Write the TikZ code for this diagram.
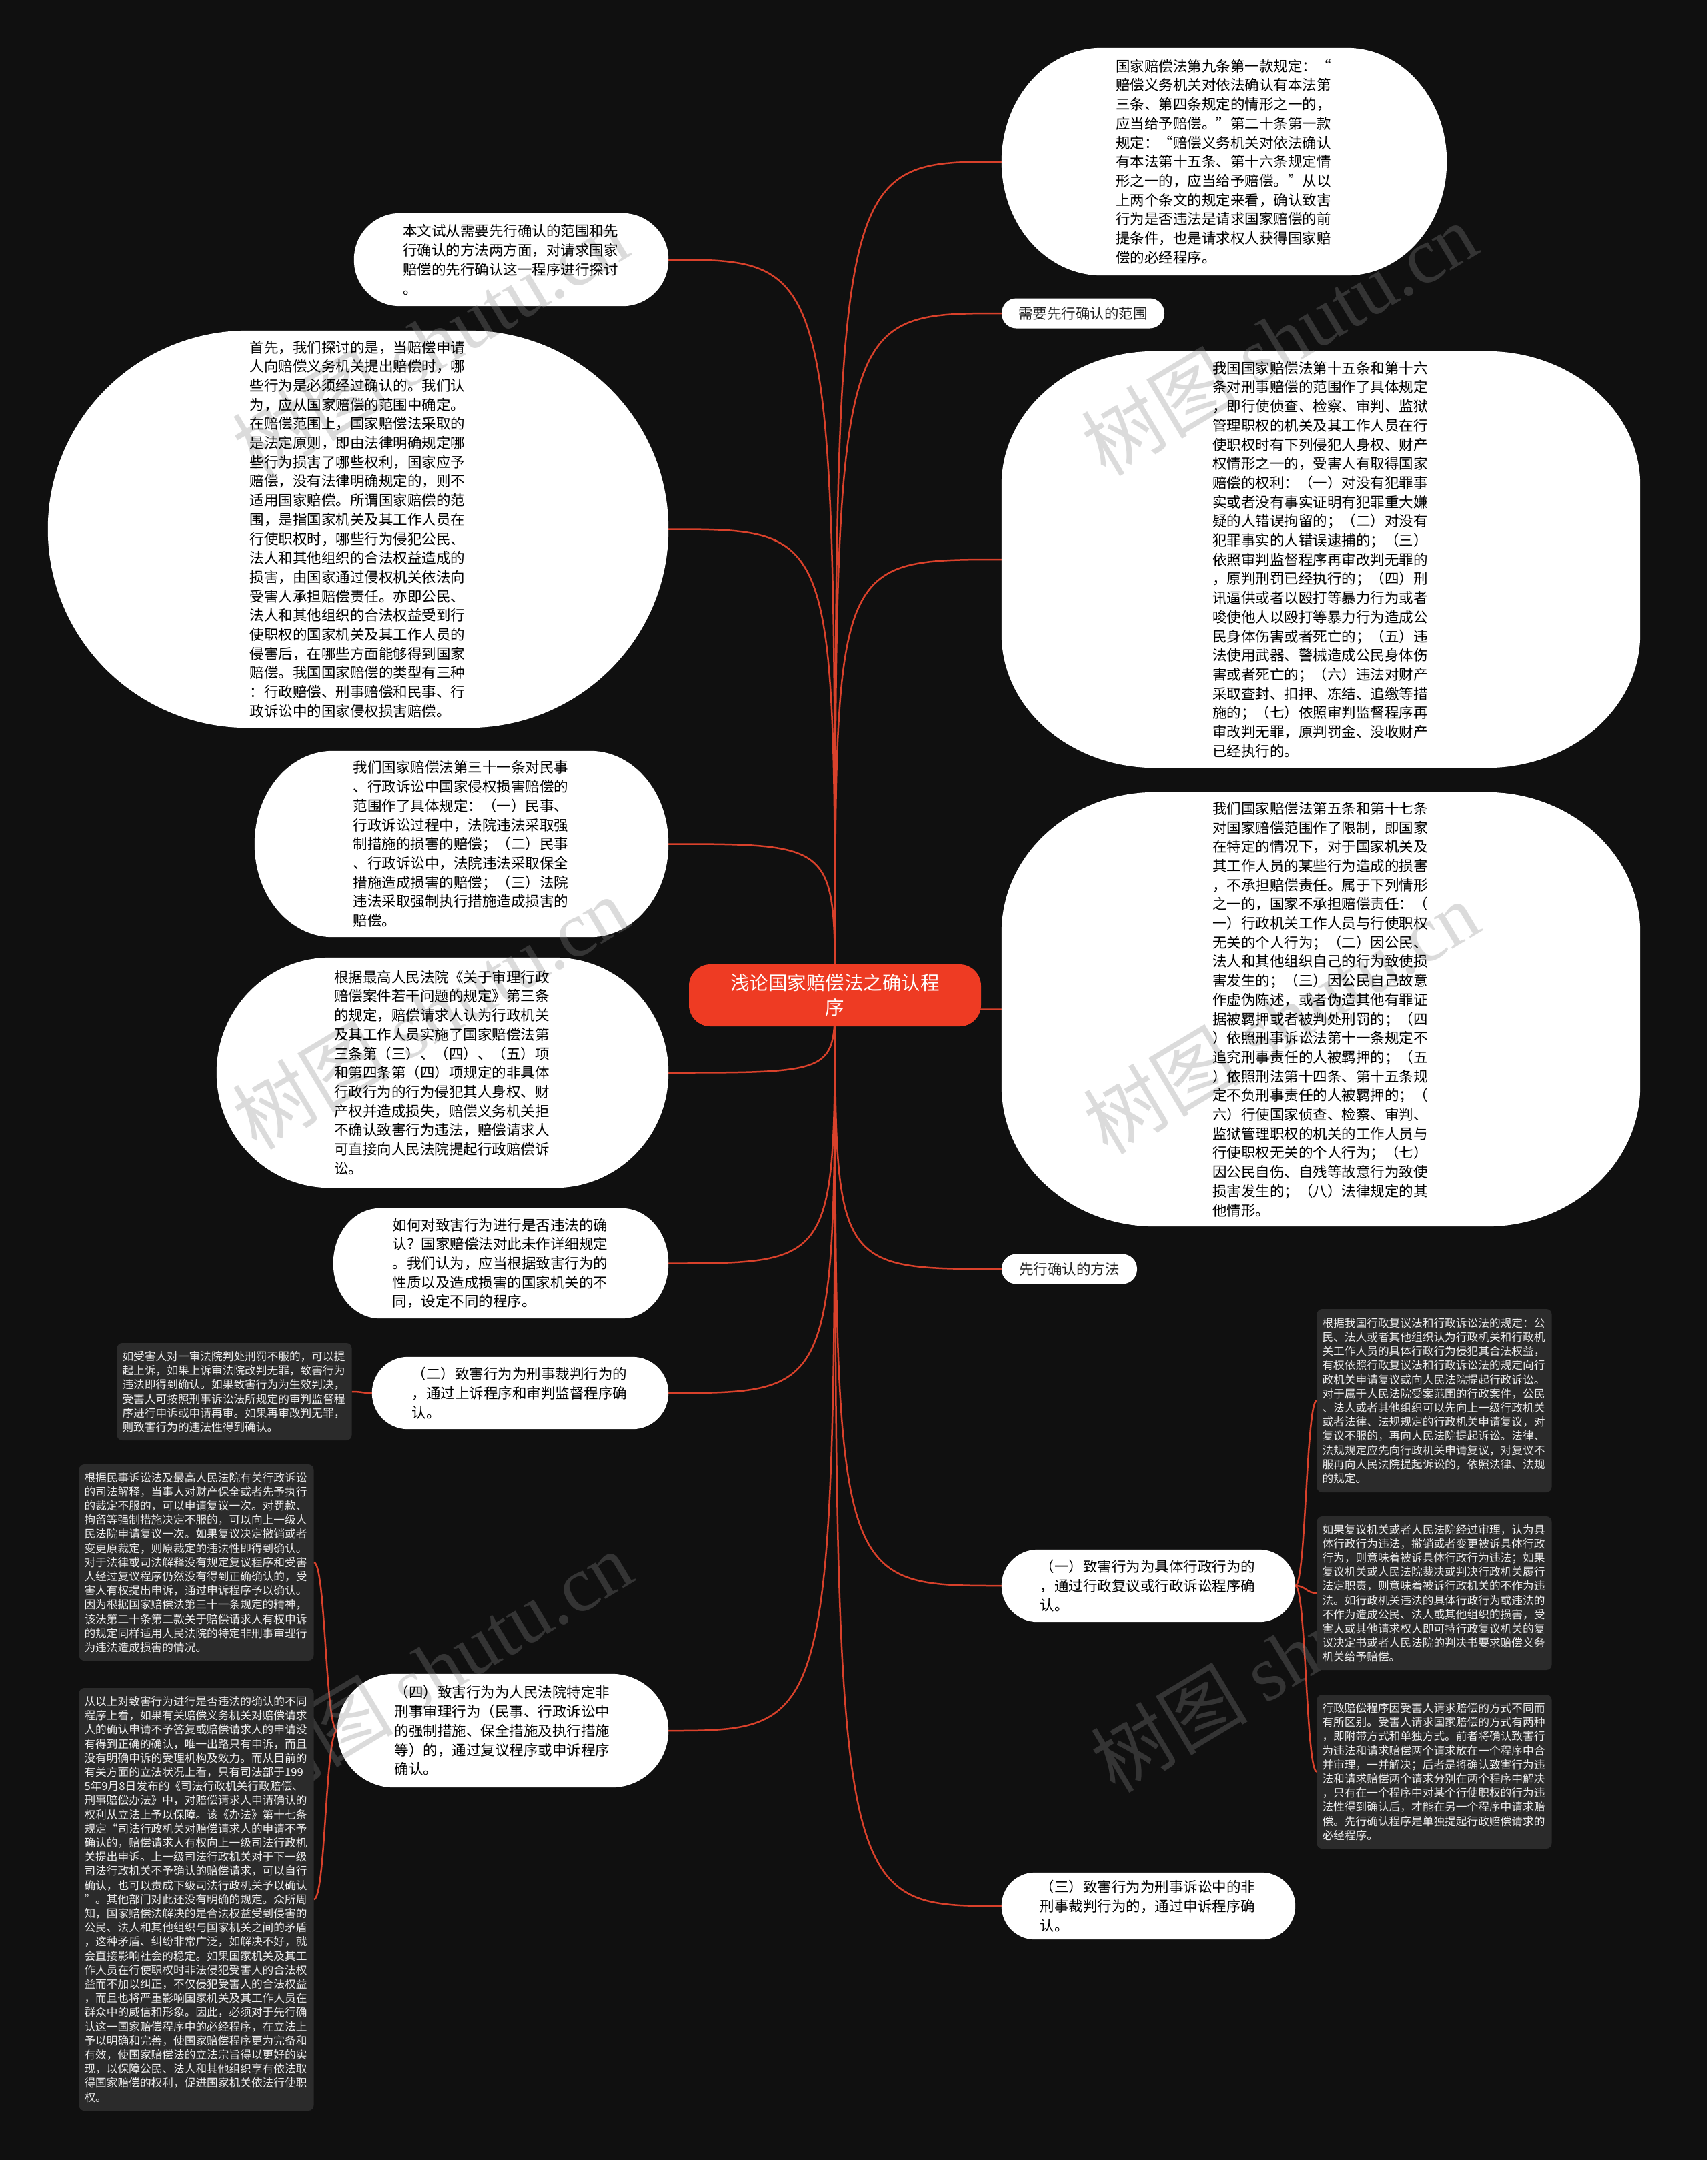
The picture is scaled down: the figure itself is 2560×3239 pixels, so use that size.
\documentclass[tikz,border=0pt]{standalone}
\usepackage{fontspec}
\setmainfont{Noto Sans CJK SC}
\newfontfamily\wmlatin{Liberation Serif}
\usetikzlibrary{calc}
\pgfdeclarelayer{bg}\pgfdeclarelayer{conn}\pgfdeclarelayer{shp}\pgfdeclarelayer{wmk}
\pgfsetlayers{bg,conn,shp,wmk,main}
\definecolor{bgc}{HTML}{101010}
\definecolor{rootc}{HTML}{EE3B23}
\definecolor{linec}{HTML}{D9412B}
\definecolor{boxc}{HTML}{2B2B2B}
\definecolor{boxtext}{HTML}{EDEDED}
\definecolor{pilltext}{HTML}{222222}
\definecolor{wmc}{HTML}{8A8A8A}
\newcommand\softshape[3]{%
 \begin{pgfonlayer}{shp}
 \fill[white] ([xshift=#2pt]#1.north west) -- ([xshift=-#2pt]#1.north east)
   arc[start angle=90,end angle=0,x radius=#2pt,y radius=#3pt]
   -- ([yshift=#3pt]#1.south east)
   arc[start angle=0,end angle=-90,x radius=#2pt,y radius=#3pt]
   -- ([xshift=#2pt]#1.south west)
   arc[start angle=270,end angle=180,x radius=#2pt,y radius=#3pt]
   -- ([yshift=-#3pt]#1.north west)
   arc[start angle=180,end angle=90,x radius=#2pt,y radius=#3pt] -- cycle;
 \end{pgfonlayer}}
\tikzset{
 bub/.style={inner sep=0pt, align=left, text width=325pt, text=black,
   font=\fontsize{21.5}{28.7}\selectfont},
 dbox/.style={fill=boxc, rounded corners=8pt, inner xsep=8pt, inner ysep=0pt,
   align=left, text width=336pt, text=boxtext, font=\fontsize{16.7}{21.2}\selectfont},
 pill/.style={fill=white, rounded corners=22pt, inner sep=0pt, minimum height=45pt,
   text=pilltext, font=\fontsize{21.5}{26}\selectfont},
 rootn/.style={fill=rootc, rounded corners=32pt, inner sep=0pt, minimum width=438pt,
   minimum height=93pt, align=center, text=white, font=\fontsize{28.5}{37}\selectfont},
 link/.style={draw=linec, line width=2.5pt},
 wm/.style={text=wmc, opacity=0.3, rotate=31, inner sep=0pt,
   font=\fontsize{118}{118}\selectfont}
}
\begin{document}
\begin{tikzpicture}[x=1pt,y=1pt]
\useasboundingbox (0,0) rectangle (2560,-3239);
\begin{pgfonlayer}{bg}
\fill[bgc] (0,0) rectangle (2560,-3239);
\end{pgfonlayer}

% root
\node[rootn] (root) at (1252,-1492.5) {浅论国家赔偿法之确认程\\序};

% right side
\node[bub, minimum width=667pt, minimum height=341pt] (tr) at (1835.5,-242.5) {国家赔偿法第九条第一款规定：“\\赔偿义务机关对依法确认有本法第\\三条、第四条规定的情形之一的，\\应当给予赔偿。”第二十条第一款\\规定：“赔偿义务机关对依法确认\\有本法第十五条、第十六条规定情\\形之一的，应当给予赔偿。”从以\\上两个条文的规定来看，确认致害\\行为是否违法是请求国家赔偿的前\\提条件，也是请求权人获得国家赔\\偿的必经程序。};
\softshape{tr}{150}{170}

\node[pill, minimum width=244pt] (p1) at (1624,-470) {需要先行确认的范围};

\node[bub, minimum width=957pt, minimum height=624pt] (br) at (1980.5,-839) {我国国家赔偿法第十五条和第十六\\条对刑事赔偿的范围作了具体规定\\，即行使侦查、检察、审判、监狱\\管理职权的机关及其工作人员在行\\使职权时有下列侵犯人身权、财产\\权情形之一的，受害人有取得国家\\赔偿的权利：（一）对没有犯罪事\\实或者没有事实证明有犯罪重大嫌\\疑的人错误拘留的；（二）对没有\\犯罪事实的人错误逮捕的；（三）\\依照审判监督程序再审改判无罪的\\，原判刑罚已经执行的；（四）刑\\讯逼供或者以殴打等暴力行为或者\\唆使他人以殴打等暴力行为造成公\\民身体伤害或者死亡的；（五）违\\法使用武器、警械造成公民身体伤\\害或者死亡的；（六）违法对财产\\采取查封、扣押、冻结、追缴等措\\施的；（七）依照审判监督程序再\\审改判无罪，原判罚金、没收财产\\已经执行的。};
\softshape{br}{230}{200}

\node[bub, minimum width=957pt, minimum height=651pt] (r2) at (1980.5,-1513.5) {我们国家赔偿法第五条和第十七条\\对国家赔偿范围作了限制，即国家\\在特定的情况下，对于国家机关及\\其工作人员的某些行为造成的损害\\，不承担赔偿责任。属于下列情形\\之一的，国家不承担赔偿责任：（\\一）行政机关工作人员与行使职权\\无关的个人行为；（二）因公民、\\法人和其他组织自己的行为致使损\\害发生的；（三）因公民自己故意\\作虚伪陈述，或者伪造其他有罪证\\据被羁押或者被判处刑罚的；（四\\）依照刑事诉讼法第十一条规定不\\追究刑事责任的人被羁押的；（五\\）依照刑法第十四条、第十五条规\\定不负刑事责任的人被羁押的；（\\六）行使国家侦查、检察、审判、\\监狱管理职权的机关的工作人员与\\行使职权无关的个人行为；（七）\\因公民自伤、自残等故意行为致使\\损害发生的；（八）法律规定的其\\他情形。};
\softshape{r2}{230}{210}

\node[pill, minimum width=203pt] (p2) at (1603.5,-1903) {先行确认的方法};

\node[bub, minimum width=440pt, minimum height=108pt] (r1) at (1722,-2378) {（一）致害行为为具体行政行为的\\，通过行政复议或行政诉讼程序确\\认。};
\softshape{r1}{54}{54}

\node[bub, minimum width=440pt, minimum height=100pt] (r3) at (1722,-2858) {（三）致害行为为刑事诉讼中的非\\刑事裁判行为的，通过申诉程序确\\认。};
\softshape{r3}{50}{50}

\node[dbox, minimum height=275pt] (da) at (2150.5,-2100.5) {根据我国行政复议法和行政诉讼法的规定：公\\民、法人或者其他组织认为行政机关和行政机\\关工作人员的具体行政行为侵犯其合法权益，\\有权依照行政复议法和行政诉讼法的规定向行\\政机关申请复议或向人民法院提起行政诉讼。\\对于属于人民法院受案范围的行政案件，公民\\、法人或者其他组织可以先向上一级行政机关\\或者法律、法规规定的行政机关申请复议，对\\复议不服的，再向人民法院提起诉讼。法律、\\法规规定应先向行政机关申请复议，对复议不\\服再向人民法院提起诉讼的，依照法律、法规\\的规定。};

\node[dbox, minimum height=230pt] (db) at (2150.5,-2389) {如果复议机关或者人民法院经过审理，认为具\\体行政行为违法，撤销或者变更被诉具体行政\\行为，则意味着被诉具体行政行为违法；如果\\复议机关或人民法院裁决或判决行政机关履行\\法定职责，则意味着被诉行政机关的不作为违\\法。如行政机关违法的具体行政行为或违法的\\不作为造成公民、法人或其他组织的损害，受\\害人或其他请求权人即可持行政复议机关的复\\议决定书或者人民法院的判决书要求赔偿义务\\机关给予赔偿。};

\node[dbox, minimum height=231pt] (dc) at (2150.5,-2656.5) {行政赔偿程序因受害人请求赔偿的方式不同而\\有所区别。受害人请求国家赔偿的方式有两种\\，即附带方式和单独方式。前者将确认致害行\\为违法和请求赔偿两个请求放在一个程序中合\\并审理，一并解决；后者是将确认致害行为违\\法和请求赔偿两个请求分别在两个程序中解决\\，只有在一个程序中对某个行使职权的行为违\\法性得到确认后，才能在另一个程序中请求赔\\偿。先行确认程序是单独提起行政赔偿请求的\\必经程序。};

% left side
\node[bub, minimum width=471pt, minimum height=139pt] (in) at (766.5,-389.5) {本文试从需要先行确认的范围和先\\行确认的方法两方面，对请求国家\\赔偿的先行确认这一程序进行探讨\\。};
\softshape{in}{69}{69}

\node[bub, minimum width=930pt, minimum height=595pt] (bl) at (537,-793.5) {首先，我们探讨的是，当赔偿申请\\人向赔偿义务机关提出赔偿时，哪\\些行为是必须经过确认的。我们认\\为，应从国家赔偿的范围中确定。\\在赔偿范围上，国家赔偿法采取的\\是法定原则，即由法律明确规定哪\\些行为损害了哪些权利，国家应予\\赔偿，没有法律明确规定的，则不\\适用国家赔偿。所谓国家赔偿的范\\围，是指国家机关及其工作人员在\\行使职权时，哪些行为侵犯公民、\\法人和其他组织的合法权益造成的\\损害，由国家通过侵权机关依法向\\受害人承担赔偿责任。亦即公民、\\法人和其他组织的合法权益受到行\\使职权的国家机关及其工作人员的\\侵害后，在哪些方面能够得到国家\\赔偿。我国国家赔偿的类型有三种\\：行政赔偿、刑事赔偿和民事、行\\政诉讼中的国家侵权损害赔偿。};
\softshape{bl}{300}{297}

\node[bub, minimum width=620pt, minimum height=279pt] (l31) at (692,-1265.5) {我们国家赔偿法第三十一条对民事\\、行政诉讼中国家侵权损害赔偿的\\范围作了具体规定：（一）民事、\\行政诉讼过程中，法院违法采取强\\制措施的损害的赔偿；（二）民事\\、行政诉讼中，法院违法采取保全\\措施造成损害的赔偿；（三）法院\\违法采取强制执行措施造成损害的\\赔偿。};
\softshape{l31}{117}{139}

\node[bub, minimum width=677pt, minimum height=345pt] (ls) at (663.5,-1608.5) {根据最高人民法院《关于审理行政\\赔偿案件若干问题的规定》第三条\\的规定，赔偿请求人认为行政机关\\及其工作人员实施了国家赔偿法第\\三条第（三）、（四）、（五）项\\和第四条第（四）项规定的非具体\\行政行为的行为侵犯其人身权、财\\产权并造成损失，赔偿义务机关拒\\不确认致害行为违法，赔偿请求人\\可直接向人民法院提起行政赔偿诉\\讼。};
\softshape{ls}{170}{172}

\node[bub, minimum width=502pt, minimum height=165pt] (lh) at (751,-1894.5) {如何对致害行为进行是否违法的确\\认？国家赔偿法对此未作详细规定\\。我们认为，应当根据致害行为的\\性质以及造成损害的国家机关的不\\同，设定不同的程序。};
\softshape{lh}{70}{82}

\node[bub, minimum width=444pt, minimum height=108pt] (l2) at (780,-2089) {（二）致害行为为刑事裁判行为的\\，通过上诉程序和审判监督程序确\\认。};
\softshape{l2}{54}{54}

\node[dbox, minimum height=146pt] (d2) at (351.5,-2087) {如受害人对一审法院判处刑罚不服的，可以提\\起上诉，如果上诉审法院改判无罪，致害行为\\违法即得到确认。如果致害行为为生效判决，\\受害人可按照刑事诉讼法所规定的审判监督程\\序进行申诉或申请再审。如果再审改判无罪，\\则致害行为的违法性得到确认。};

\node[bub, minimum width=496pt, minimum height=170pt] (l4) at (754,-2595) {（四）致害行为为人民法院特定非\\刑事审理行为（民事、行政诉讼中\\的强制措施、保全措施及执行措施\\等）的，通过复议程序或申诉程序\\确认。};
\softshape{l4}{85}{85}

\node[dbox, minimum height=294pt] (dd) at (294.5,-2343) {根据民事诉讼法及最高人民法院有关行政诉讼\\的司法解释，当事人对财产保全或者先予执行\\的裁定不服的，可以申请复议一次。对罚款、\\拘留等强制措施决定不服的，可以向上一级人\\民法院申请复议一次。如果复议决定撤销或者\\变更原裁定，则原裁定的违法性即得到确认。\\对于法律或司法解释没有规定复议程序和受害\\人经过复议程序仍然没有得到正确确认的，受\\害人有权提出申诉，通过申诉程序予以确认。\\因为根据国家赔偿法第三十一条规定的精神，\\该法第二十条第二款关于赔偿请求人有权申诉\\的规定同样适用人民法院的特定非刑事审理行\\为违法造成损害的情况。};

\node[dbox, minimum height=634pt] (de) at (294.5,-2848) {从以上对致害行为进行是否违法的确认的不同\\程序上看，如果有关赔偿义务机关对赔偿请求\\人的确认申请不予答复或赔偿请求人的申请没\\有得到正确的确认，唯一出路只有申诉，而且\\没有明确申诉的受理机构及效力。而从目前的\\有关方面的立法状况上看，只有司法部于199\\5年9月8日发布的《司法行政机关行政赔偿、\\刑事赔偿办法》中，对赔偿请求人申请确认的\\权利从立法上予以保障。该《办法》第十七条\\规定“司法行政机关对赔偿请求人的申请不予\\确认的，赔偿请求人有权向上一级司法行政机\\关提出申诉。上一级司法行政机关对于下一级\\司法行政机关不予确认的赔偿请求，可以自行\\确认，也可以责成下级司法行政机关予以确认\\”。其他部门对此还没有明确的规定。众所周\\知，国家赔偿法解决的是合法权益受到侵害的\\公民、法人和其他组织与国家机关之间的矛盾\\，这种矛盾、纠纷非常广泛，如解决不好，就\\会直接影响社会的稳定。如果国家机关及其工\\作人员在行使职权时非法侵犯受害人的合法权\\益而不加以纠正，不仅侵犯受害人的合法权益\\，而且也将严重影响国家机关及其工作人员在\\群众中的威信和形象。因此，必须对于先行确\\认这一国家赔偿程序中的必经程序，在立法上\\予以明确和完善，使国家赔偿程序更为完备和\\有效，使国家赔偿法的立法宗旨得以更好的实\\现，以保障公民、法人和其他组织享有依法取\\得国家赔偿的权利，促进国家机关依法行使职\\权。};

% connectors
\begin{pgfonlayer}{conn}
\foreach \c in {tr,p1,br,r2,p2,r1,r3}
  \draw[link] (root.center) .. controls (root.center |- \c.west) .. (\c.west);
\foreach \c in {in,bl,l31,ls,lh,l2,l4}
  \draw[link] (root.center) .. controls (root.center |- \c.east) .. (\c.east);
\foreach \c in {da,db,dc}
  \draw[link] (r1.east) .. controls +(16pt,0) and +(-16pt,0) .. (\c.west);
\draw[link] (l2.west) .. controls +(-16pt,0) and +(16pt,0) .. (d2.east);
\foreach \c in {dd,de}
  \draw[link] (l4.west) .. controls +(-18pt,0) and +(18pt,0) .. (\c.east);
\end{pgfonlayer}

% watermarks
\begin{pgfonlayer}{wmk}
\foreach \wx/\wy [count=\i] in {645/-512, 1918/-508, 645/-1518, 1921/-1525, 651/-2500, 1932/-2482}
  \node[wm] (wm\i) at (\wx,\wy) {树图 {\wmlatin shutu.cn}};
\end{pgfonlayer}
\end{tikzpicture}
\end{document}
